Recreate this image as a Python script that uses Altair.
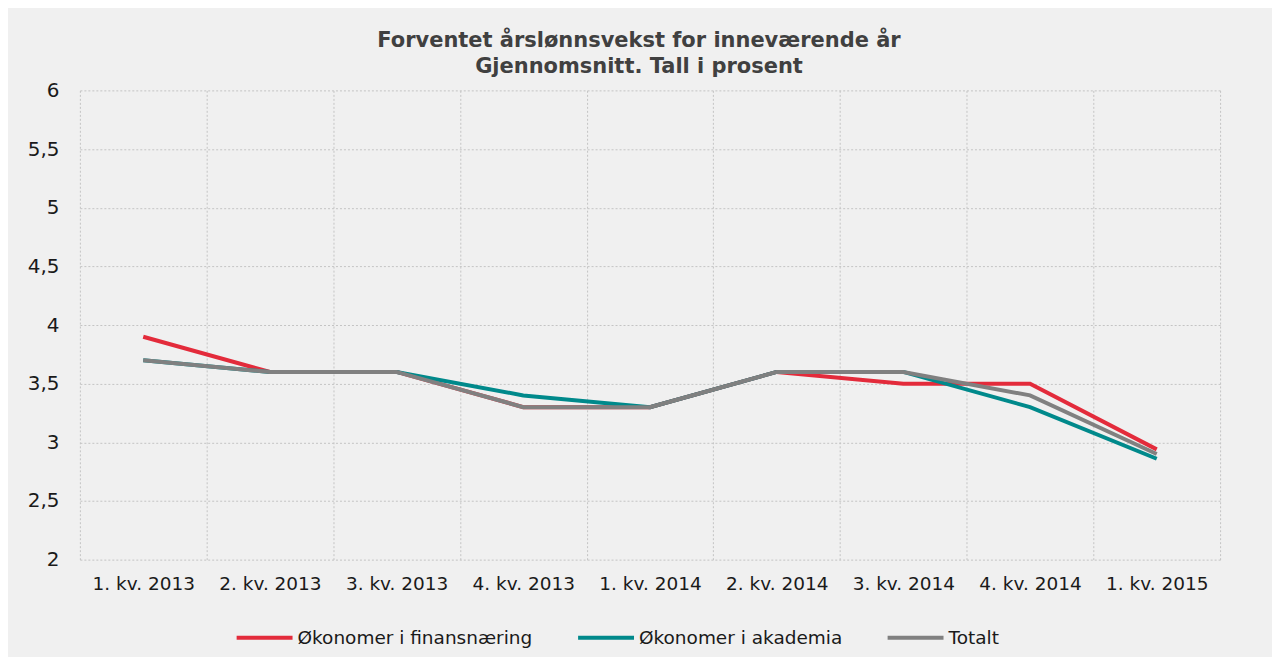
import json
import altair as alt
import pandas as pd

quarters = ["1. kv. 2013", "2. kv. 2013", "3. kv. 2013", "4. kv. 2013", "1. kv. 2014",
            "2. kv. 2014", "3. kv. 2014", "4. kv. 2014", "1. kv. 2015"]
series_names = ["Økonomer i finansnæring", "Økonomer i akademia", "Totalt"]
finans = [3.9, 3.6, 3.6, 3.3, 3.3, 3.6, 3.5, 3.5, 2.94]
akademia = [3.7, 3.6, 3.6, 3.4, 3.3, 3.6, 3.6, 3.3, 2.86]
totalt = [3.7, 3.6, 3.6, 3.3, 3.3, 3.6, 3.6, 3.4, 2.90]
colors = ["#e32b3b", "#00898b", "#808080"]
y_ticks = [2, 2.5, 3, 3.5, 4, 4.5, 5, 5.5, 6]

rows = []
for name, vals in zip(series_names, [finans, akademia, totalt]):
    for q, v in zip(quarters, vals):
        rows.append({"kvartal": q, "serie": name, "verdi": v})
df = pd.DataFrame(rows)

FONT = "DejaVu Sans"

chart = alt.Chart(df).mark_line(strokeWidth=4).encode(
    x=alt.X("kvartal:N", sort=quarters, title=None,
            scale=alt.Scale(type="band", paddingInner=0, paddingOuter=0),
            axis=alt.Axis(labelAngle=0, grid=True, tickBand="extent", ticks=False, domain=False,
                          gridColor="#c4c4c4", gridDash=[2, 2], gridWidth=1,
                          labelFont=FONT, labelFontSize=18.5, labelColor="#1a1a1a",
                          labelPadding=15)),
    y=alt.Y("verdi:Q", title=None,
            scale=alt.Scale(domain=[2, 6], nice=False, zero=False),
            axis=alt.Axis(values=y_ticks, grid=True, ticks=False, domain=False,
                          gridColor="#c4c4c4", gridDash=[2, 2], gridWidth=1,
                          labelExpr="replace(format(datum.value, '~g'), '.', ',')",
                          labelFont=FONT, labelFontSize=20, labelColor="#1a1a1a",
                          labelPadding=21)),
    color=alt.Color("serie:N", sort=series_names,
                    scale=alt.Scale(domain=series_names, range=colors),
                    legend=alt.Legend(title=None, orient="none", direction="horizontal",
                                      legendX=155, legendY=518, padding=0,
                                      symbolType="stroke", symbolSize=3136, symbolStrokeWidth=4,
                                      labelFont=FONT, labelFontSize=18.5, labelColor="#1a1a1a",
                                      labelOffset=3, columnPadding=37, labelLimit=400)),
).properties(
    width=1142,
    height=470,
    title=alt.TitleParams(
        text=["Forventet årslønnsvekst for inneværende år", "Gjennomsnitt. Tall i prosent"],
        font=FONT, fontSize=21, fontWeight="bold", color="#404040",
        anchor="middle", offset=3, dx=-11, lineHeight=26),
    autosize=alt.AutoSizeParams(type="none"),
    padding={"left": 72, "top": 82, "right": 52, "bottom": 97},
    background="#f0f0f0",
).configure_view(strokeWidth=0)

chart.save("out.html", embed_options={"renderer": "svg", "actions": False})
